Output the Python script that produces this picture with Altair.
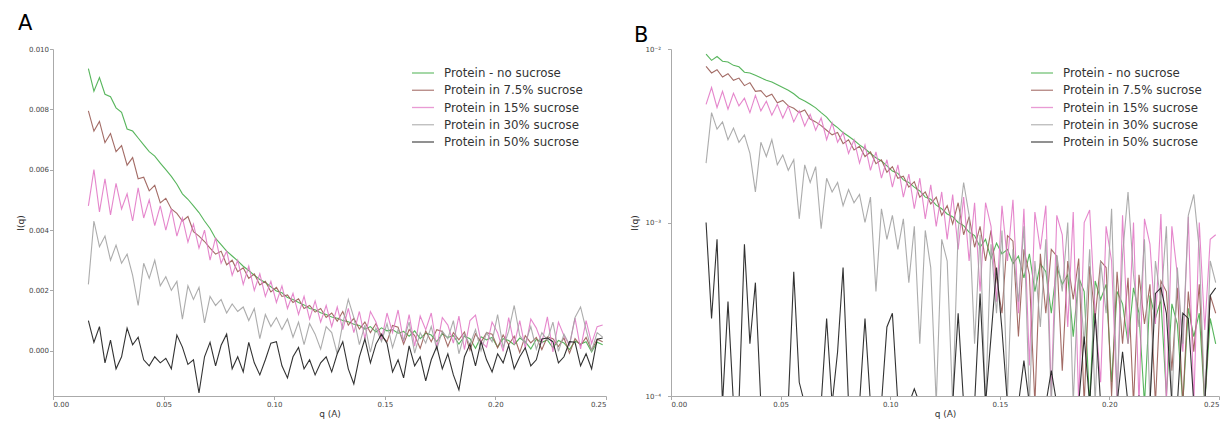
import altair as alt
import pandas as pd

# scattering vector q (1/A)
Q = [0.016, 0.0185, 0.021, 0.0235, 0.026, 0.0285, 0.031, 0.0335, 0.036, 0.0385,
     0.041, 0.0435, 0.046, 0.0485, 0.051, 0.0535, 0.056, 0.0585, 0.061, 0.0635,
     0.066, 0.0685, 0.071, 0.0735, 0.076, 0.0785, 0.081, 0.0835, 0.086, 0.0885,
     0.091, 0.0935, 0.096, 0.0985, 0.101, 0.1035, 0.106, 0.1085, 0.111, 0.1135,
     0.116, 0.1185, 0.121, 0.1235, 0.126, 0.1285, 0.131, 0.1335, 0.136, 0.1385,
     0.141, 0.1435, 0.146, 0.1485, 0.151, 0.1535, 0.156, 0.1585, 0.161, 0.1635,
     0.166, 0.1685, 0.171, 0.1735, 0.176, 0.1785, 0.181, 0.1835, 0.186, 0.1885,
     0.191, 0.1935, 0.196, 0.1985, 0.201, 0.2035, 0.206, 0.2085, 0.211, 0.2135,
     0.216, 0.2185, 0.221, 0.2235, 0.226, 0.2285, 0.231, 0.2335, 0.236, 0.2385,
     0.241, 0.2435, 0.246, 0.2485]

SERIES = ["Protein - no sucrose", "Protein in 7.5% sucrose", "Protein in 15% sucrose",
          "Protein in 30% sucrose", "Protein in 50% sucrose"]
COLORS = ["#45ad4a", "#995c55", "#e27ac6", "#a3a3a3", "#1c1c1c"]

UNIT = 1e-5  # intensities below are in units of 1e-5

I_NO = [935, 860, 905, 850, 842, 805, 790, 735, 728, 705,
        682, 660, 645, 622, 600, 578, 552, 520, 502, 480,
        458, 430, 405, 372, 352, 330, 314, 298, 280, 266,
        250, 236, 226, 212, 198, 192, 176, 170, 160, 152,
        140, 136, 126, 120, 112, 108, 100, 96, 88, 84,
        72, 80, 62, 76, 66, 70, 58, 64, 48, 66,
        40, 58, 52, 30, 56, 44, 50, 22, 48, 40,
        8, 46, 36, 44, 12, 40, 34, 20, 42, 30,
        6, 38, 28, 36, 10, 34, 26, 4, 32, 22,
        30, -4, 28, 20]

I_75 = [795, 728, 760, 690, 720, 660, 680, 615, 640, 570,
        575, 530, 548, 490, 505, 470, 455, 430, 445, 395,
        380, 362, 340, 320, 330, 285, 300, 262, 275, 240,
        255, 218, 230, 195, 210, 180, 185, 160, 172, 140,
        150, 128, 140, 110, 125, 98, 130, 85, 108, 72,
        95, 60, 90, 48, 30, 84, 78, 22, 70, 50,
        8, 66, 30, 70, 64, 14, 60, 36, 62, 2,
        56, 28, 60, 55, 10, 52, 20, 48, -6, 50,
        26, 44, 4, 46, 40, 14, 42, -8, 40, 18,
        44, 2, 38, 30]

I_15 = [480, 600, 460, 570, 450, 555, 470, 520, 430, 540,
        440, 500, 415, 480, 400, 470, 380, 440, 360, 420,
        340, 400, 300, 375, 290, 330, 250, 300, 220, 280,
        200, 255, 180, 230, 160, 215, 140, 190, 120, 180,
        105, 165, 95, 150, 80, 145, 70, 140, 60, 130,
        40, 130, 95, 35, 125, 60, 135, 30, 120, 15,
        115, 70, 125, 10, 110, 85, 25, 115, 4, 100,
        118, 30, 12, 95, 60, -2, 110, 20, 100, 8,
        105, 75, 26, 112, -4, 95, 50, 18, 108, 6,
        100, 24, 80, 85]

I_30 = [220, 430, 345, 380, 300, 350, 290, 320, 250, 150,
        290, 240, 300, 215, 245, 200, 230, 105, 215, 170,
        210, 92, 180, 150, 170, 125, 155, 130, 145, 100,
        140, 40, 120, 80, 110, 70, 105, 45, 95, 20,
        90, 55, 5, 80, 60, -10, 90, 170, 110, 20,
        85, -5, 75, 30, 90, 10, 70, 35, 95, -8,
        60, 25, 80, 5, 65, 40, 100, -10, 55, 20,
        70, 0, 60, 30, 120, 10, 65, 150, 50, 25,
        80, 5, 60, 35, 95, -2, 55, 20, 110, 145,
        70, 0, 60, 45]

I_50 = [100, 28, 80, -40, 35, -60, -20, 75, 20, 45,
        -30, -50, -20, -40, -25, -60, 52, 12, -45, -30,
        -140, -20, 28, -50, 18, 55, -60, -20, -70, 28,
        -40, -80, -30, 25, 30, -50, -90, -20, 11, -60,
        -30, -80, -40, -20, -70, -10, 30, -60, -110, -20,
        39, -40, 22, 55, 24, -70, -30, -90, 16, -50,
        -20, -100, -30, 14, -60, -10, -80, -130, -20, 22,
        -50, 30, -30, -70, -10, -40, 18, -60, -20, 10,
        -50, -30, 39, 42, 30, -40, -20, 30, 28, -50,
        -10, -60, 38, 42]

X_TICKS = [0.0, 0.05, 0.10, 0.15, 0.20, 0.25]
Y_TICKS_A = [0.0, 0.002, 0.004, 0.006, 0.008, 0.010]
Y_TICKS_B = [1e-4, 1e-3, 1e-2]

rows = []
for name, vals in zip(SERIES, [I_NO, I_75, I_15, I_30, I_50]):
    for q, v in zip(Q, vals):
        rows.append({"q": q, "I": v * UNIT, "series": name})
df = pd.DataFrame(rows)
leg = pd.DataFrame({"series": SERIES, "row": list(range(len(SERIES)))})

FONT = "DejaVu Sans"
H = 347

color = alt.Color("series:N", scale=alt.Scale(domain=SERIES, range=COLORS), legend=None)
xenc = alt.X("q:Q", scale=alt.Scale(domain=[0, 0.25], nice=False),
             axis=alt.Axis(values=X_TICKS, format=".2f", title="q (A)",
                           labelPadding=1, titlePadding=2))
legy = alt.Y("row:O", scale=alt.Scale(type="point", range=[24, 93], padding=0), axis=None)


def legend_layers(x0):
    rule = alt.Chart(leg).mark_rule(strokeWidth=1.3, opacity=0.75).encode(
        x=alt.value(x0), x2=alt.value(x0 + 22), y=legy, color=color)
    text = alt.Chart(leg).mark_text(align="left", baseline="middle", fontSize=11.8,
                                    font=FONT, color="#333333").encode(
        x=alt.value(x0 + 32), y=legy, text="series:N")
    return rule, text


linesA = alt.Chart(df).mark_line(strokeWidth=1.1, opacity=0.9, clip=True).encode(
    x=xenc,
    y=alt.Y("I:Q", scale=alt.Scale(domain=[-0.0015, 0.010], nice=False, zero=False),
            axis=alt.Axis(values=Y_TICKS_A, format=".3f", title="I(q)",
                          minExtent=27, maxExtent=27, labelPadding=1, titlePadding=1)),
    color=color)
rA, tA = legend_layers(359)
panelA = alt.layer(linesA, rA, tA).resolve_scale(y="independent").properties(
    width=553, height=H,
    title=alt.TitleParams("A", anchor="start", fontSize=21, fontWeight="normal",
                          font=FONT, color="black", dx=2, offset=11))

linesB = alt.Chart(df).transform_calculate(
    IB="max(datum.I, 0.00009)"
).mark_line(strokeWidth=1.1, opacity=0.9, clip=True).encode(
    x=xenc,
    y=alt.Y("IB:Q", scale=alt.Scale(type="log", domain=[1e-4, 1e-2], nice=False),
            axis=alt.Axis(values=Y_TICKS_B, title="I(q)", minExtent=25, maxExtent=25,
                          labelPadding=7, titlePadding=7,
                          labelExpr="datum.value < 0.0005 ? '10⁻⁴' : (datum.value < 0.005 ? '10⁻³' : '10⁻²')")),
    color=color)
rB, tB = legend_layers(360)
panelB = alt.layer(linesB, rB, tB).resolve_scale(y="independent").properties(
    width=548, height=H,
    title=alt.TitleParams("B", anchor="start", fontSize=21, fontWeight="normal",
                          font=FONT, color="black", dx=4, dy=12, offset=11))

chart = alt.hconcat(panelA, panelB, spacing=23).properties(
    padding={"left": 8, "top": 5, "right": 0, "bottom": 0}
).configure_view(stroke=None).configure_axis(
    grid=False, domainColor="#aaaaaa", tickColor="#aaaaaa", tickSize=3.5,
    labelColor="#444444", labelFontSize=7, labelFont=FONT,
    titleFont=FONT, titleFontSize=9, titleFontWeight="normal", titleColor="#333333"
)

chart.save("out.html", embed_options={"renderer": "svg", "actions": False})
